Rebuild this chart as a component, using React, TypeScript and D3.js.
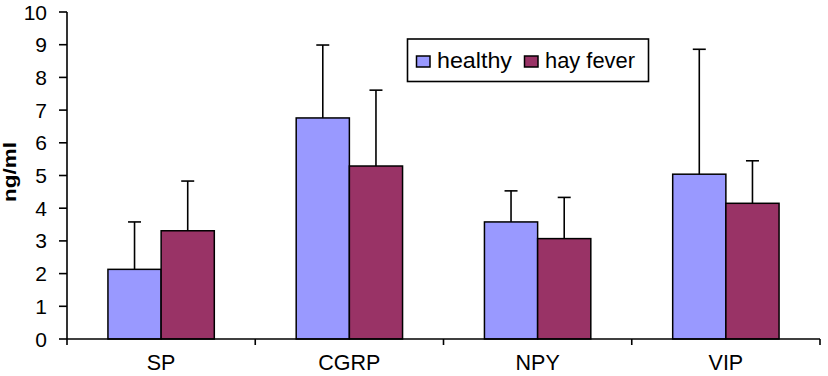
import React from "react";
import * as d3 from "d3";

const categories = ["SP", "CGRP", "NPY", "VIP"];
const seriesNames = ["healthy", "hay fever"];
const healthy = [2.13, 6.76, 3.58, 5.04];
const healthyErr = [1.45, 2.23, 0.95, 3.82];
const hayFever = [3.31, 5.29, 3.07, 4.15];
const hayFeverErr = [1.52, 2.32, 1.26, 1.3];
const yTicks = [0, 1, 2, 3, 4, 5, 6, 7, 8, 9, 10];
const colors = ["#9999FF", "#993366"];

const W = 828;
const H = 376;
const left = 67;
const right = 820;
const top = 12;
const bottom = 339;

export default function App() {
  const x = d3.scaleBand<string>().domain(categories).range([left, right]).paddingInner(0).paddingOuter(0);
  const y = d3.scaleLinear().domain([0, 10]).range([bottom, top]);
  const groupW = x.bandwidth() * 0.565;
  const sub = d3.scaleBand<string>().domain(seriesNames).range([0, groupW]);
  const series = [
    { name: seriesNames[0], vals: healthy, errs: healthyErr, color: colors[0] },
    { name: seriesNames[1], vals: hayFever, errs: hayFeverErr, color: colors[1] },
  ];
  const font = "'Liberation Sans', Arial, sans-serif";
  return (
    <svg width={W} height={H} style={{ position: "absolute", left: 0, top: 0, background: "#fff" }} fontFamily={font}>
      <rect x={0} y={0} width={W} height={H} fill="#fff" />
      {series.map((s) =>
        categories.map((c, i) => {
          const bx = (x(c) as number) + (x.bandwidth() - groupW) / 2 + (sub(s.name) as number);
          const bw = sub.bandwidth();
          const cx = bx + bw / 2;
          const yTop = y(s.vals[i]);
          const yErr = y(s.vals[i] + s.errs[i]);
          return (
            <g key={s.name + c}>
              <line x1={cx} x2={cx} y1={yTop} y2={yErr} stroke="#000" strokeWidth={1.6} />
              <line x1={cx - 6.5} x2={cx + 6.5} y1={yErr} y2={yErr} stroke="#000" strokeWidth={1.6} />
              <rect x={bx} y={yTop} width={bw} height={bottom - yTop} fill={s.color} stroke="#000" strokeWidth={1.5} />
            </g>
          );
        })
      )}
      {/* axes */}
      <line x1={left} x2={left} y1={top} y2={bottom} stroke="#000" strokeWidth={1.6} />
      <line x1={left} x2={right} y1={bottom} y2={bottom} stroke="#000" strokeWidth={1.6} />
      {yTicks.map((t) => (
        <g key={t}>
          <line x1={59} x2={left} y1={y(t)} y2={y(t)} stroke="#000" strokeWidth={1.6} />
          <text x={47} y={y(t)} dy="0.36em" textAnchor="end" fontSize={21} fill="#000">
            {t}
          </text>
        </g>
      ))}
      {categories.map((c) => (
        <line key={"xt" + c} x1={x(c) as number} x2={x(c) as number} y1={bottom} y2={bottom + 6} stroke="#000" strokeWidth={1.6} />
      ))}
      <line x1={right} x2={right} y1={bottom} y2={bottom + 6} stroke="#000" strokeWidth={1.6} />
      {categories.map((c) => (
        <text key={"xl" + c} x={(x(c) as number) + x.bandwidth() / 2} y={370} textAnchor="middle" fontSize={21.5} fill="#000">
          {c}
        </text>
      ))}
      <text
        transform={`translate(16,172) rotate(-90)`}
        textAnchor="middle"
        fontSize={18}
        fontWeight="bold"
        fill="#000"
        textLength={60}
        lengthAdjust="spacingAndGlyphs"
      >
        ng/ml
      </text>
      {/* legend */}
      <rect x={407.5} y={39} width={241} height={42.5} fill="#fff" stroke="#000" strokeWidth={1.6} />
      <rect x={416.5} y={56} width={13.5} height={11} fill={colors[0]} stroke="#000" strokeWidth={1.5} />
      <text x={437} y={68} fontSize={22} fill="#000" textLength={75} lengthAdjust="spacingAndGlyphs">{seriesNames[0]}</text>
      <rect x={524.5} y={56} width={13.5} height={11} fill={colors[1]} stroke="#000" strokeWidth={1.5} />
      <text x={545} y={68} fontSize={22} fill="#000" textLength={90} lengthAdjust="spacingAndGlyphs">{seriesNames[1]}</text>
    </svg>
  );
}
